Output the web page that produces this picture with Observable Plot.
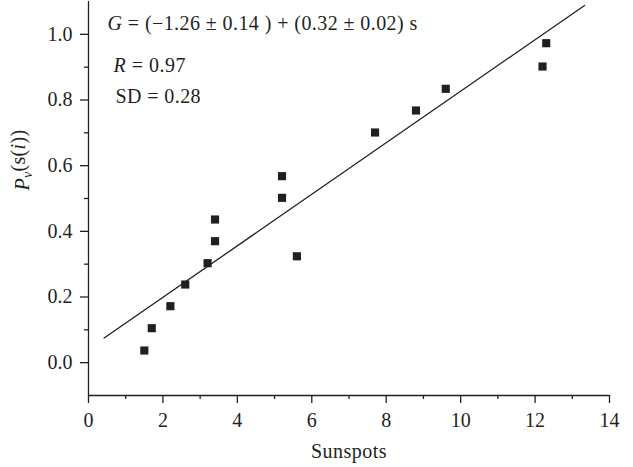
<!DOCTYPE html>
<html><head><meta charset="utf-8">
<script src="https://cdn.jsdelivr.net/npm/d3@7"></script>
<script src="https://cdn.jsdelivr.net/npm/@observablehq/plot@0.6"></script>
<style>
body{margin:0;background:#fff}
#chart svg, #chart svg text{font-family:"Liberation Serif","DejaVu Serif",serif}
</style>
</head><body><div id="chart"></div>
<script>
const sunspots = [1.5, 1.7, 2.2, 2.6, 3.2, 3.4, 3.4, 5.2, 5.2, 5.6, 7.7, 8.8, 9.6, 12.2, 12.3];
const prob = [0.037, 0.105, 0.172, 0.238, 0.303, 0.370, 0.436, 0.502, 0.568, 0.324, 0.701, 0.768, 0.834, 0.902, 0.973];
const fitX = [0.42, 13.33];
const fitY = [0.075, 1.088];
const xTicks = [0, 2, 4, 6, 8, 10, 12, 14];
const xMinor = [1, 3, 5, 7, 9, 11, 13];
const yTicks = [0.0, 0.2, 0.4, 0.6, 0.8, 1.0];
const yMinor = [0.1, 0.3, 0.5, 0.7, 0.9];
const xLabel = "Sunspots";
const yLabel = "Pν(s(i))";
const fitText = "G = (−1.26 ± 0.14 ) + (0.32 ± 0.02) s";
const rText = "R = 0.97";
const sdText = "SD = 0.28";

const ink = "#231f20";
const serif = "'Liberation Serif', 'DejaVu Serif', serif";
const points = sunspots.map((s, i) => ({s, p: prob[i]}));
const fit = fitX.map((x, i) => ({x, y: fitY[i]}));

const chart = Plot.plot({
  width: 633,
  height: 467,
  marginLeft: 88,
  marginRight: 24,
  marginTop: 1,
  marginBottom: 72,
  style: {fontSize: "20px", fontFamily: serif, color: ink, background: "#fff", overflow: "visible"},
  x: {domain: [0, 14]},
  y: {domain: [-0.1, 1.1]},
  marks: [
    Plot.ruleX([0], {stroke: ink, strokeWidth: 1.3}),
    Plot.ruleY([-0.1], {stroke: ink, strokeWidth: 1.3}),
    Plot.axisX({ticks: xTicks, tickSize: 8, tickPadding: 9, tickFormat: d => String(d), label: null, fontSize: 20, strokeWidth: 1.3}),
    Plot.axisX({ticks: xMinor, tickSize: 4, tickFormat: null, text: null, label: null, strokeWidth: 1.3}),
    Plot.axisY({ticks: yTicks, tickSize: 8, tickPadding: 8, tickFormat: d3.format(".1f"), label: null, fontSize: 20, strokeWidth: 1.3}),
    Plot.axisY({ticks: yMinor, tickSize: 4, tickFormat: null, text: null, label: null, strokeWidth: 1.3}),
    Plot.line(fit, {x: "x", y: "y", stroke: ink, strokeWidth: 1.3}),
    Plot.dot(points, {x: "s", y: "p", symbol: "square", r: 4.6, fill: ink, stroke: null}),
    Plot.text([fitText], {text: d => d, frameAnchor: "top-left", textAnchor: "start", lineAnchor: "middle", dx: 19, dy: 22, fontSize: 20, fill: ink}),
    Plot.text([rText], {text: d => d, frameAnchor: "top-left", textAnchor: "start", lineAnchor: "middle", dx: 25, dy: 64, fontSize: 20, fill: ink}),
    Plot.text([sdText], {text: d => d, frameAnchor: "top-left", textAnchor: "start", lineAnchor: "middle", dx: 27, dy: 95, fontSize: 20, fill: ink}),
    Plot.text([xLabel], {text: d => d, frameAnchor: "bottom", lineAnchor: "middle", dy: 56, fontSize: 20, fill: ink}),
    Plot.text([yLabel], {text: d => d, frameAnchor: "left", rotate: -90, lineAnchor: "middle", dx: -66, dy: -8, fontSize: 20, fill: ink})
  ]
});
document.getElementById("chart").appendChild(chart);

const svg = d3.select(chart);
svg.attr("font-family", serif);
function styleText(content, parts, spacing) {
  const sel = svg.selectAll("text").filter(function () { return this.textContent === content; });
  sel.each(function () {
    const t = d3.select(this);
    if (spacing) t.attr("letter-spacing", spacing);
    if (!parts) return;
    t.text(null);
    parts.forEach(([s, st]) => {
      const ts = t.append("tspan").text(s);
      if (st && st.italic) ts.attr("font-style", "italic");
      if (st && st.sub) ts.attr("dy", "0.25em").attr("font-size", "14px");
      if (st && st.unsub) ts.attr("dy", "-0.36em");
    });
  });
}
styleText(fitText, [["G", {italic: true}], [" = (−1.26 ± 0.14 ) + (0.32 ± 0.02) s"]], "0.42px");
styleText(rText, [["R", {italic: true}], [" = 0.97"]], "0.5px");
styleText(sdText, null, "0.4px");
styleText(xLabel, null, "0.5px");
styleText(yLabel, [["P", {italic: true}], ["ν", {italic: true, sub: true}], ["(", {unsub: true}], ["s("], ["i", {italic: true}], ["))"]], "0.3px");
</script>
</body></html>
